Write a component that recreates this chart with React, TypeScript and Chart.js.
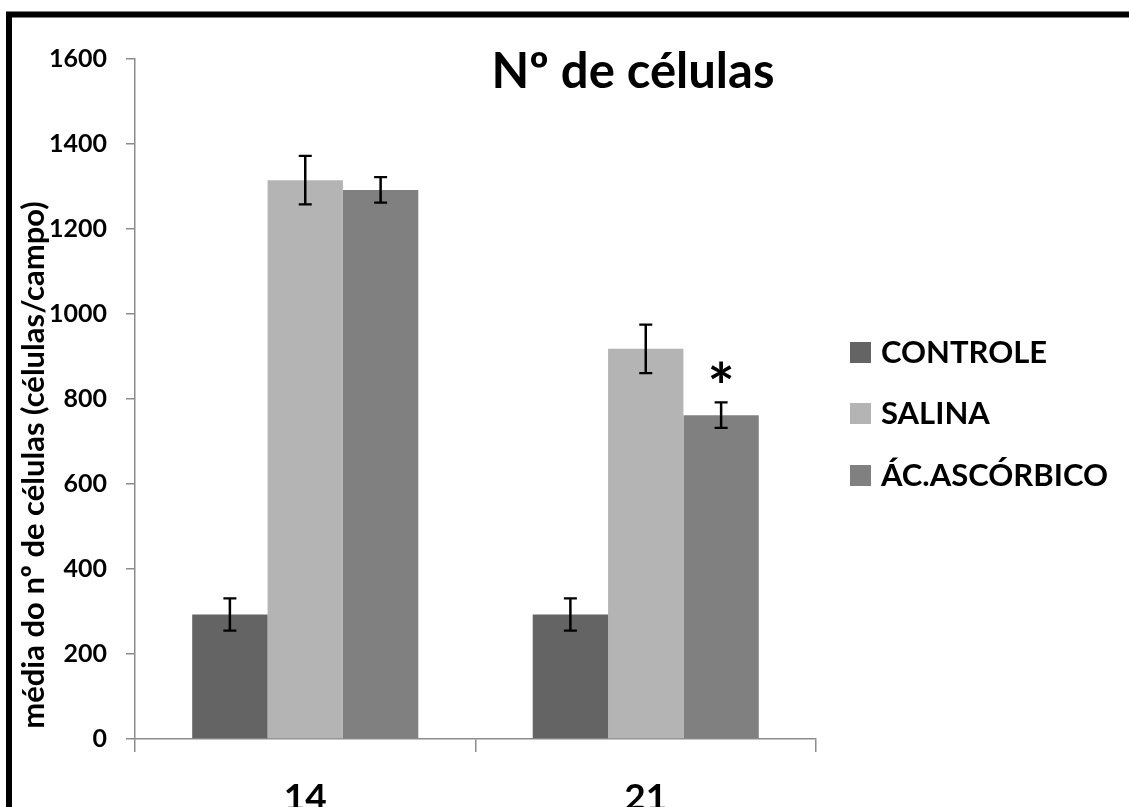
import React, { useEffect, useRef } from "react";
import { Chart, registerables } from "chart.js";

Chart.register(...registerables);

const categories = ["14", "21"];
const seriesNames = ["CONTROLE", "SALINA", "ÁC.ASCÓRBICO"];
const controleValues = [293, 293];
const salinaValues = [1315, 918];
const acidoValues = [1292, 762];
const controleErrors = [38, 38];
const salinaErrors = [57, 57];
const acidoErrors = [30, 30];
const seriesColors = ["#646464", "#b4b4b4", "#808080"];
const yMin = 0;
const yMax = 1600;
const yStep = 200;
const chartTitle = "Nº de células";
const yAxisTitle = "média do nº de células (células/campo)";
const significanceMarks = [{ dataset: 2, index: 1, label: "*" }];

const FONT = "Lato, 'Open Sans', sans-serif";

const decorPlugin = {
  id: "decor",
  beforeDraw(chart: any) {
    const ctx = chart.ctx;
    ctx.save();
    ctx.fillStyle = "#ffffff";
    ctx.fillRect(0, 0, chart.width, chart.height);
    ctx.restore();
  },
  afterDatasetsDraw(chart: any) {
    const ctx = chart.ctx;
    const ys = chart.scales.y;
    ctx.save();
    // error bars
    chart.data.datasets.forEach((ds: any, di: number) => {
      const meta = chart.getDatasetMeta(di);
      meta.data.forEach((bar: any, i: number) => {
        const v = ds.data[i];
        const e = ds.errors[i];
        const yt = ys.getPixelForValue(v + e);
        const yb = ys.getPixelForValue(v - e);
        const x = bar.x;
        ctx.strokeStyle = "#000";
        ctx.lineWidth = 2.5;
        ctx.beginPath();
        ctx.moveTo(x, yt);
        ctx.lineTo(x, yb);
        ctx.stroke();
        ctx.lineWidth = 2.2;
        ctx.beginPath();
        ctx.moveTo(x - 6.5, yt);
        ctx.lineTo(x + 6.5, yt);
        ctx.moveTo(x - 6.5, yb);
        ctx.lineTo(x + 6.5, yb);
        ctx.stroke();
      });
    });
    // significance marks
    significanceMarks.forEach((m) => {
      const ds: any = chart.data.datasets[m.dataset];
      const bar: any = chart.getDatasetMeta(m.dataset).data[m.index];
      const yt = ys.getPixelForValue(ds.data[m.index] + ds.errors[m.index]);
      ctx.fillStyle = "#000";
      ctx.font = `bold 64px ${FONT}`;
      ctx.textAlign = "center";
      ctx.textBaseline = "alphabetic";
      const mt = ctx.measureText(m.label);
      const asc = mt.actualBoundingBoxAscent || 40;
      const desc = mt.actualBoundingBoxDescent || -20;
      const centerY = yt - 30;
      ctx.fillText(m.label, bar.x, centerY + (asc - desc) / 2);
    });
    ctx.restore();
  },
  afterDraw(chart: any) {
    const ctx = chart.ctx;
    ctx.save();
    // title
    ctx.fillStyle = "#000";
    ctx.font = `bold 49px ${FONT}`;
    ctx.textAlign = "center";
    ctx.textBaseline = "alphabetic";
    ctx.fillText(chartTitle, 633, 88);
    // y axis title
    ctx.save();
    ctx.translate(44, 465);
    ctx.rotate(-Math.PI / 2);
    ctx.font = `bold 31px ${FONT}`;
    ctx.textAlign = "center";
    ctx.textBaseline = "alphabetic";
    ctx.fillText(yAxisTitle, 0, 0);
    ctx.restore();
    // legend
    const baselines = [363, 424, 486];
    seriesNames.forEach((name, i) => {
      ctx.fillStyle = seriesColors[i];
      ctx.fillRect(850, baselines[i] - 21, 21, 21);
      ctx.fillStyle = "#000";
      ctx.font = `bold 31px ${FONT}`;
      ctx.textAlign = "left";
      ctx.textBaseline = "alphabetic";
      ctx.fillText(name, 881, baselines[i]);
    });
    // frame
    ctx.strokeStyle = "#000";
    ctx.lineWidth = 6;
    ctx.strokeRect(9, 14.5, 1400, 1000);
    ctx.restore();
  },
};

export default function App() {
  const canvasRef = useRef<HTMLCanvasElement | null>(null);

  useEffect(() => {
    const canvas = canvasRef.current;
    if (!canvas) return;
    const values = [controleValues, salinaValues, acidoValues];
    const errors = [controleErrors, salinaErrors, acidoErrors];
    const chart = new Chart(canvas, {
      type: "bar",
      data: {
        labels: categories,
        datasets: seriesNames.map((name, i) => ({
          label: name,
          data: values[i],
          errors: errors[i],
          backgroundColor: seriesColors[i],
          borderWidth: 0,
          categoryPercentage: 0.664,
          barPercentage: 1,
        })) as any,
      },
      options: {
        animation: false,
        responsive: false,
        devicePixelRatio: 1,
        layout: { padding: { top: 59, right: 313, left: 0, bottom: 0 } },
        plugins: {
          legend: { display: false },
          title: { display: false },
          tooltip: { enabled: false },
        },
        scales: {
          x: {
            offset: true,
            grid: {
              offset: true,
              drawOnChartArea: false,
              drawTicks: true,
              tickLength: 13,
              color: "#8c8c8c",
              lineWidth: 1.5,
            },
            border: { color: "#8c8c8c", width: 1.5 },
            ticks: {
              color: "#000",
              font: { family: FONT, size: 37, weight: "bold" },
              padding: 24,
            },
            afterFit(scale: any) {
              scale.height = 68;
            },
          },
          y: {
            min: yMin,
            max: yMax,
            ticks: {
              stepSize: yStep,
              color: "#000",
              font: { family: FONT, size: 25, weight: "bold" },
              padding: 19,
              callback: (v: any) => String(v),
            },
            grid: {
              drawOnChartArea: false,
              drawTicks: true,
              tickLength: 9,
              color: "#8c8c8c",
              lineWidth: 1.5,
            },
            border: { color: "#8c8c8c", width: 1.5 },
            afterFit(scale: any) {
              scale.width = 135;
            },
          },
        },
      } as any,
      plugins: [decorPlugin],
    });
    return () => chart.destroy();
  }, []);

  return (
    <div style={{ position: "fixed", left: 0, top: 0, width: 1129, height: 807, background: "#fff" }}>
      <canvas ref={canvasRef} width={1129} height={807} style={{ width: 1129, height: 807, display: "block" }} />
    </div>
  );
}
